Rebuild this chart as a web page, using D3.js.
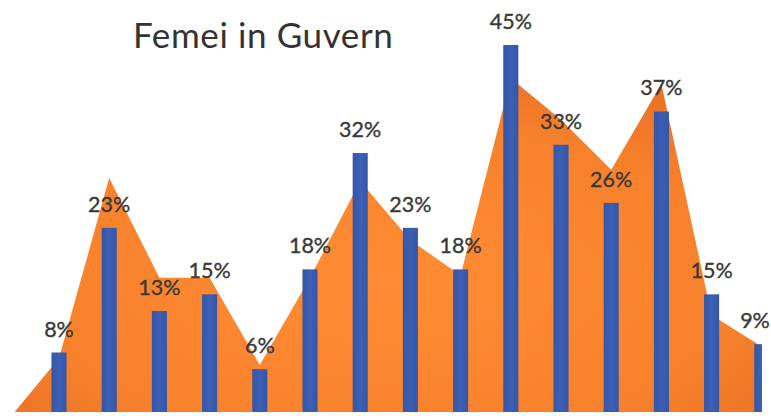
<!DOCTYPE html>
<html>
<head>
<meta charset="utf-8">
<script src="https://cdn.jsdelivr.net/npm/d3@7"></script>
<style>
  body { margin: 0; background: #fff; }
  svg { display: block; }
</style>
</head>
<body>
<svg id="chart"></svg>
<script>
// data
const categories = ['c1','c2','c3','c4','c5','c6','c7','c8','c9','c10','c11','c12','c13','c14','c15'];
const barValues = [8, 23, 13, 15, 6, 18, 32, 23, 18, 45, 33, 26, 37, 15, 9];
const areaValues = [7.3, 29, 17, 17, 6.5, 17, 28.6, 21.5, 17.3, 41, 36, 30, 40.3, 12.5, 8.7];
const labels = barValues.map(v => v + '%');
const title = 'Femei in Guvern';

const width = 771, height = 416;

const svg = d3.select('#chart')
    .attr('width', width)
    .attr('height', height);

const defs = svg.append('defs');

defs.append('clipPath').attr('id', 'plot-clip')
  .append('rect')
    .attr('x', 0).attr('y', 0)
    .attr('width', 762).attr('height', 412);

const grad = defs.append('radialGradient')
    .attr('id', 'orange-grad')
    .attr('cx', '50%').attr('cy', '60%').attr('r', '65%');
grad.append('stop').attr('offset', '0%').attr('stop-color', '#ff8c34');
grad.append('stop').attr('offset', '70%').attr('stop-color', '#f8822c');
grad.append('stop').attr('offset', '100%').attr('stop-color', '#ea7326');

const blueGrad = defs.append('linearGradient')
    .attr('id', 'blue-grad')
    .attr('x1', '0%').attr('x2', '100%');
blueGrad.append('stop').attr('offset', '0%').attr('stop-color', '#3456a6');
blueGrad.append('stop').attr('offset', '50%').attr('stop-color', '#3d60b6');
blueGrad.append('stop').attr('offset', '100%').attr('stop-color', '#3456a6');

// scales
const xscale = d3.scaleBand()
    .domain(categories)
    .range([33.9, 786.9])
    .paddingInner(0.7)
    .paddingOuter(0.35);

const xcenter = d3.scaleLinear()
    .domain([0, categories.length - 1])
    .range([xscale(categories[0]) + xscale.bandwidth() / 2,
            xscale(categories[categories.length - 1]) + xscale.bandwidth() / 2]);

const yscale = d3.scaleLinear()
    .domain([0, 45])
    .range([419, 45]);

const plot = svg.append('g').attr('clip-path', 'url(#plot-clip)');

// orange area, starting from zero one step before the first category
const areaPoints = [{i: -1, v: 0}].concat(areaValues.map((v, i) => ({i: i, v: v})));

const area = d3.area()
    .x(d => xcenter(d.i))
    .y0(yscale(0))
    .y1(d => yscale(d.v));

plot.append('path')
    .datum(areaPoints)
    .attr('d', area)
    .attr('fill', 'url(#orange-grad)');

// bars
plot.selectAll('rect.bar')
  .data(barValues)
  .join('rect')
    .attr('class', 'bar')
    .attr('x', (d, i) => xscale(categories[i]))
    .attr('y', d => yscale(d))
    .attr('width', xscale.bandwidth())
    .attr('height', d => yscale(0) - yscale(d))
    .attr('fill', 'url(#blue-grad)');

// value labels (last one pulled in so it stays inside the page)
svg.selectAll('text.label')
  .data(barValues)
  .join('text')
    .attr('class', 'label')
    .attr('x', (d, i) => Math.min(xscale(categories[i]) + xscale.bandwidth() / 2, 755))
    .attr('y', d => yscale(d) - 16)
    .attr('text-anchor', 'middle')
    .attr('font-family', 'Lato, sans-serif')
    .attr('font-size', 21.5)
    .attr('fill', '#383838')
    .attr('stroke', '#383838')
    .attr('stroke-width', 0.35)
    .text((d, i) => labels[i]);

// title
svg.append('text')
    .attr('x', 133)
    .attr('y', 48)
    .attr('font-family', 'Lato, sans-serif')
    .attr('font-size', 35)
    .attr('letter-spacing', 0.6)
    .attr('fill', '#333')
    .text(title);
</script>
</body>
</html>
